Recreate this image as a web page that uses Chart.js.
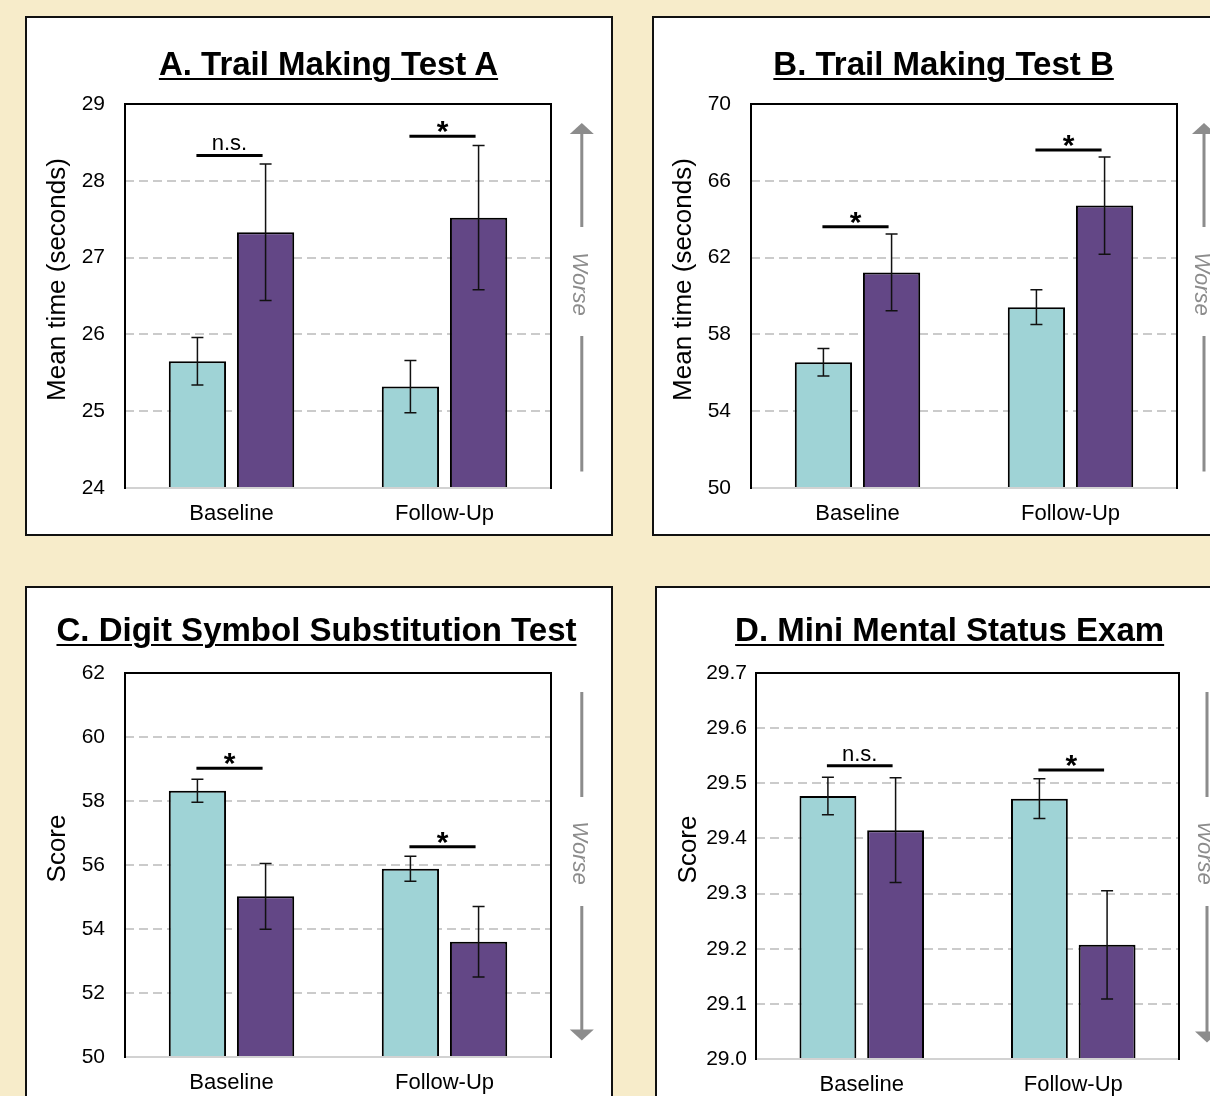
<!DOCTYPE html>
<html>
<head>
<meta charset="utf-8">
<script src="https://cdn.jsdelivr.net/npm/chart.js@4.4.1/dist/chart.umd.min.js"></script>
<style>
  html, body { margin: 0; padding: 0; }
  body { width: 1210px; height: 1096px; overflow: hidden; background: #f7ecca; position: relative;
         font-family: "Liberation Sans", Arial, sans-serif; }
  .box { position: absolute; box-sizing: border-box; border: 2px solid #111; background: #fff; }
  canvas { position: absolute; }
  .ttl { position: absolute; width: 700px; text-align: center; font-weight: bold; font-size: 33px;
         line-height: 33px; color: #000; text-decoration: underline; text-decoration-thickness: 2px;
         text-underline-offset: 3px; white-space: nowrap; }
</style>
</head>
<body>
<script>
// ---------------- DATA ----------------
const categories = ['Baseline', 'Follow-Up'];
const seriesNames = ['Group 1', 'Group 2'];

// A. Trail Making Test A
const tmtA_teal = [25.65, 25.32];
const tmtA_tealErr = [0.31, 0.34];
const tmtA_purple = [27.33, 27.52];
const tmtA_purpleErr = [0.89, 0.94];
const tmtA_sigLabels = ['n.s.', '*'];
const tmtA_sigLevels = [28.33, 28.58];
const tmtA_ticks = [24, 25, 26, 27, 28, 29];
const tmtA_tickLabels = ['24', '25', '26', '27', '28', '29'];

// B. Trail Making Test B
const tmtB_teal = [56.55, 59.42];
const tmtB_tealErr = [0.72, 0.90];
const tmtB_purple = [61.23, 64.71];
const tmtB_purpleErr = [2.00, 2.53];
const tmtB_sigLabels = ['*', '*'];
const tmtB_sigLevels = [63.61, 67.61];
const tmtB_ticks = [50, 54, 58, 62, 66, 70];
const tmtB_tickLabels = ['50', '54', '58', '62', '66', '70'];

// C. Digit Symbol Substitution Test
const dsst_teal = [58.32, 55.88];
const dsst_tealErr = [0.36, 0.39];
const dsst_purple = [55.02, 53.60];
const dsst_purpleErr = [1.03, 1.10];
const dsst_sigLabels = ['*', '*'];
const dsst_sigLevels = [59.02, 56.57];
const dsst_ticks = [50, 52, 54, 56, 58, 60, 62];
const dsst_tickLabels = ['50', '52', '54', '56', '58', '60', '62'];

// D. Mini Mental Status Exam
const mmse_teal = [29.477, 29.472];
const mmse_tealErr = [0.034, 0.036];
const mmse_purple = [29.415, 29.207];
const mmse_purpleErr = [0.095, 0.098];
const mmse_sigLabels = ['n.s.', '*'];
const mmse_sigLevels = [29.532, 29.524];
const mmse_ticks = [29.0, 29.1, 29.2, 29.3, 29.4, 29.5, 29.6, 29.7];
const mmse_tickLabels = ['29.0', '29.1', '29.2', '29.3', '29.4', '29.5', '29.6', '29.7'];

// ---------------- LAYOUT / STYLE ----------------
const TEAL = '#9fd3d6';
const PURPLE = '#634786';
const FONT = '"Liberation Sans", Arial, sans-serif';
Chart.defaults.font.family = FONT;
Chart.defaults.color = '#000';

const panels = [
  { title: 'A. Trail Making Test A', yTitle: 'Mean time (seconds)', teal: tmtA_teal, tealErr: tmtA_tealErr,
    purple: tmtA_purple, purpleErr: tmtA_purpleErr, sig: tmtA_sigLabels, sigY: tmtA_sigLevels,
    ticks: tmtA_ticks, tickLabels: tmtA_tickLabels, arrowUp: true,
    box: { x: 25, y: 16, w: 588, h: 520 }, plot: { l: 125, t: 104, r: 551, b: 488 },
    titleX: 328.5, titleBase: 75, arrowX: 581.8, tickPad: 20 },
  { title: 'B. Trail Making Test B', yTitle: 'Mean time (seconds)', teal: tmtB_teal, tealErr: tmtB_tealErr,
    purple: tmtB_purple, purpleErr: tmtB_purpleErr, sig: tmtB_sigLabels, sigY: tmtB_sigLevels,
    ticks: tmtB_ticks, tickLabels: tmtB_tickLabels, arrowUp: true,
    box: { x: 652, y: 16, w: 588, h: 520 }, plot: { l: 751, t: 104, r: 1177, b: 488 },
    titleX: 943.6, titleBase: 75, arrowX: 1204, tickPad: 20 },
  { title: 'C. Digit Symbol Substitution Test', yTitle: 'Score', teal: dsst_teal, tealErr: dsst_tealErr,
    purple: dsst_purple, purpleErr: dsst_purpleErr, sig: dsst_sigLabels, sigY: dsst_sigLevels,
    ticks: dsst_ticks, tickLabels: dsst_tickLabels, arrowUp: false,
    box: { x: 25, y: 586, w: 588, h: 520 }, plot: { l: 125, t: 673, r: 551, b: 1057 },
    titleX: 316.5, titleBase: 641, arrowX: 581.8, tickPad: 20 },
  { title: 'D. Mini Mental Status Exam', yTitle: 'Score', teal: mmse_teal, tealErr: mmse_tealErr,
    purple: mmse_purple, purpleErr: mmse_purpleErr, sig: mmse_sigLabels, sigY: mmse_sigLevels,
    ticks: mmse_ticks, tickLabels: mmse_tickLabels, arrowUp: false,
    box: { x: 655, y: 586, w: 588, h: 520 }, plot: { l: 756, t: 673, r: 1179, b: 1059 },
    titleX: 949.6, titleBase: 641, arrowX: 1207, tickPad: 9 }
];

const Y_AXIS_W = 60;
const X_AXIS_H = 46;

function makeDecor(p, k) {
  return {
    id: 'decor' + k,
    afterDatasetsDraw(chart) {
      const ctx = chart.ctx, a = chart.chartArea, y = chart.scales.y;
      ctx.save();
      // plot frame
      ctx.lineWidth = 2;
      ctx.strokeStyle = '#d2d2d2';
      ctx.beginPath(); ctx.moveTo(a.left, a.bottom); ctx.lineTo(a.right, a.bottom); ctx.stroke();
      ctx.strokeStyle = '#000';
      ctx.beginPath();
      ctx.moveTo(a.left, a.bottom + 1); ctx.lineTo(a.left, a.top);
      ctx.lineTo(a.right, a.top); ctx.lineTo(a.right, a.bottom + 1);
      ctx.stroke();
      // error bars
      const errs = [p.tealErr, p.purpleErr];
      ctx.strokeStyle = '#111';
      ctx.lineWidth = 1.5;
      errs.forEach((errArr, di) => {
        const meta = chart.getDatasetMeta(di);
        const vals = chart.data.datasets[di].data;
        meta.data.forEach((bar, j) => {
          const hi = y.getPixelForValue(vals[j] + errArr[j]);
          const lo = y.getPixelForValue(vals[j] - errArr[j]);
          const x = bar.x;
          ctx.beginPath();
          ctx.moveTo(x, hi); ctx.lineTo(x, lo);
          ctx.moveTo(x - 6, hi); ctx.lineTo(x + 6, hi);
          ctx.moveTo(x - 6, lo); ctx.lineTo(x + 6, lo);
          ctx.stroke();
        });
      });
      // significance brackets
      const m0 = chart.getDatasetMeta(0), m1 = chart.getDatasetMeta(1);
      p.sig.forEach((lab, j) => {
        const yy = y.getPixelForValue(p.sigY[j]);
        const x1 = m0.data[j].x - 1, x2 = m1.data[j].x - 3;
        ctx.strokeStyle = '#000';
        ctx.lineWidth = 3;
        ctx.beginPath(); ctx.moveTo(x1, yy); ctx.lineTo(x2, yy); ctx.stroke();
        ctx.fillStyle = '#000';
        ctx.textAlign = 'center';
        ctx.textBaseline = 'alphabetic';
        if (lab === '*') {
          ctx.font = 'bold 30px ' + FONT;
          ctx.fillText(lab, (x1 + x2) / 2, yy + 5);
        } else {
          ctx.font = '22px ' + FONT;
          ctx.fillText(lab, (x1 + x2) / 2, yy - 5);
        }
      });
      ctx.restore();
    },
    afterDraw(chart) {
      const ctx = chart.ctx, a = chart.chartArea;
      const ox = p.box.x;
      ctx.save();
      // y-axis title
      ctx.fillStyle = '#000';
      ctx.font = '26px ' + FONT;
      ctx.textAlign = 'center';
      ctx.textBaseline = 'alphabetic';
      ctx.translate(a.left - 60.5, (a.top + a.bottom) / 2 - 16.5);
      ctx.rotate(-Math.PI / 2);
      ctx.fillText(p.yTitle, 0, 0);
      ctx.restore();
      // "Worse" arrow
      ctx.save();
      const ax = p.arrowX - ox;
      const col = '#8c8c8c';
      ctx.strokeStyle = col; ctx.fillStyle = col; ctx.lineWidth = 3;
      const top = a.top + 19, bot = a.bottom - 16.5;
      const tc = a.top + 180;
      ctx.beginPath();
      if (p.arrowUp) {
        ctx.moveTo(ax, top + 10); ctx.lineTo(ax, a.top + 123);
        ctx.moveTo(ax, a.top + 232); ctx.lineTo(ax, bot);
        ctx.stroke();
        ctx.beginPath();
        ctx.moveTo(ax, top); ctx.lineTo(ax - 12, top + 11); ctx.lineTo(ax + 12, top + 11); ctx.closePath();
        ctx.fill();
      } else {
        ctx.moveTo(ax, top); ctx.lineTo(ax, a.top + 124);
        ctx.moveTo(ax, a.top + 233); ctx.lineTo(ax, bot - 10);
        ctx.stroke();
        ctx.beginPath();
        ctx.moveTo(ax, bot); ctx.lineTo(ax - 12, bot - 11); ctx.lineTo(ax + 12, bot - 11); ctx.closePath();
        ctx.fill();
      }
      ctx.translate(ax, tc);
      ctx.rotate(Math.PI / 2);
      ctx.font = 'italic 22px ' + FONT;
      ctx.textAlign = 'center';
      ctx.textBaseline = 'middle';
      ctx.fillText('Worse', 0, 2.5);
      ctx.restore();
    }
  };
}

panels.forEach((p, k) => {
  const box = document.createElement('div');
  box.className = 'box';
  Object.assign(box.style, { left: p.box.x + 'px', top: p.box.y + 'px', width: p.box.w + 'px', height: p.box.h + 'px' });
  document.body.appendChild(box);

  const cv = document.createElement('canvas');
  cv.width = p.box.w; cv.height = p.box.h;
  Object.assign(cv.style, { left: p.box.x + 'px', top: p.box.y + 'px', width: p.box.w + 'px', height: p.box.h + 'px' });
  document.body.appendChild(cv);

  const t = document.createElement('div');
  t.className = 'ttl';
  t.textContent = p.title;
  t.style.left = (p.titleX - 350) + 'px';
  t.style.top = (p.titleBase - 28) + 'px';
  document.body.appendChild(t);

  const cl = p.plot.l - p.box.x, cr = p.plot.r - p.box.x;
  const ct = p.plot.t - p.box.y, cb = p.plot.b - p.box.y;
  const nT = p.ticks.length;

  new Chart(cv, {
    type: 'bar',
    data: {
      labels: categories,
      datasets: [
        { label: seriesNames[0], data: p.teal, backgroundColor: TEAL, borderColor: '#000', borderWidth: 2 },
        { label: seriesNames[1], data: p.purple, backgroundColor: PURPLE, borderColor: '#000', borderWidth: 2 }
      ]
    },
    options: {
      responsive: false,
      animation: false,
      devicePixelRatio: 1,
      categoryPercentage: 0.64,
      barPercentage: 0.84,
      layout: {
        padding: {
          left: cl - Y_AXIS_W,
          right: p.box.w - cr,
          top: ct,
          bottom: p.box.h - cb - X_AXIS_H
        }
      },
      plugins: { legend: { display: false }, tooltip: { enabled: false }, title: { display: false } },
      scales: {
        x: {
          grid: { display: false, drawTicks: false },
          border: { display: false },
          ticks: { font: { size: 22 }, color: '#000', padding: 13, maxRotation: 0 },
          afterFit: (s) => { s.height = X_AXIS_H; }
        },
        y: {
          min: p.ticks[0], max: p.ticks[nT - 1],
          afterBuildTicks: (s) => { s.ticks = p.ticks.map(v => ({ value: v })); },
          afterFit: (s) => { s.width = Y_AXIS_W; },
          grid: {
            drawTicks: false,
            lineWidth: 2,
            color: (c) => (c.index === 0 || c.index === nT - 1) ? 'rgba(0,0,0,0)' : '#cbcbcb'
          },
          border: { display: false, dash: [9, 5] },
          ticks: {
            font: { size: 21 }, color: '#000', padding: p.tickPad,
            callback: (v, i) => p.tickLabels[i]
          }
        }
      }
    },
    plugins: [makeDecor(p, k)]
  });
});
</script>
</body>
</html>
